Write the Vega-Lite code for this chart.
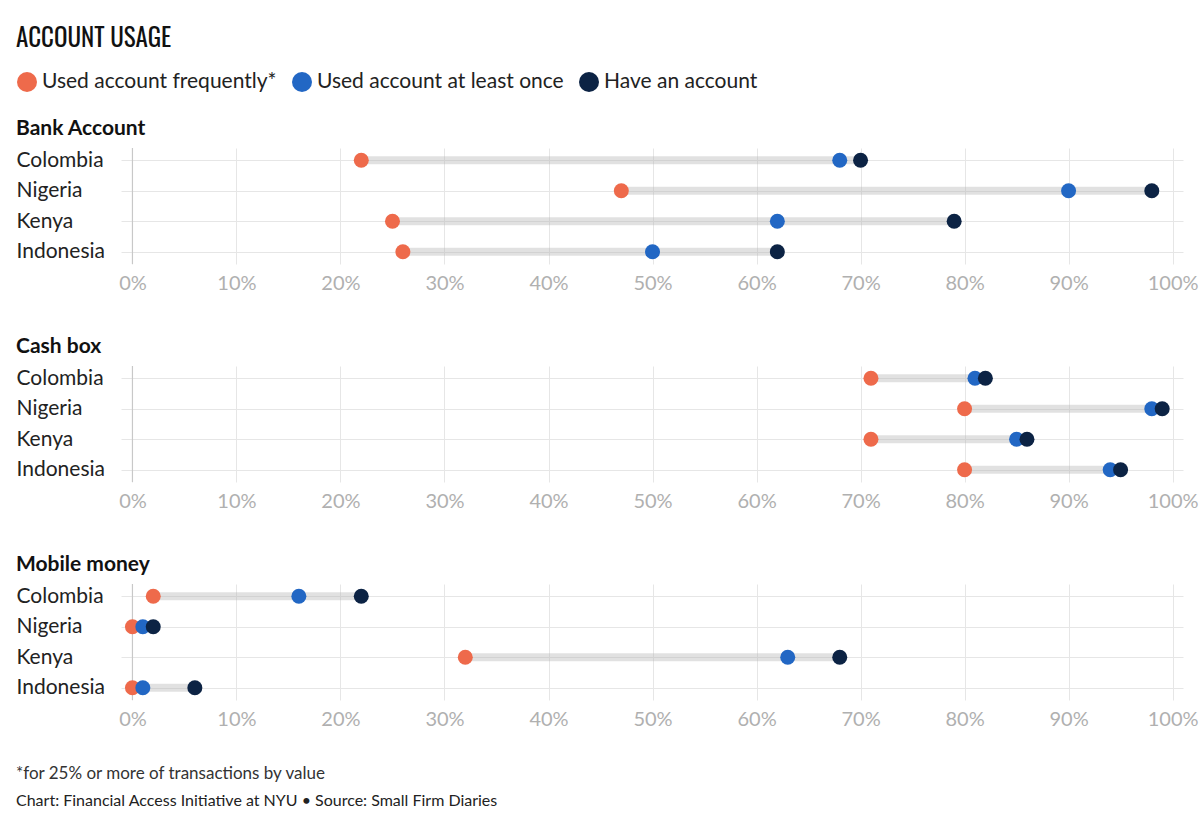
{
  "$schema": "https://vega.github.io/schema/vega-lite/v6.json",
  "padding": {"left": 16, "top": 27, "right": 4, "bottom": 6},
  "data": {"values": [
    {"type": "Bank Account", "country": "Colombia", "measure": "Used account frequently*", "value": 0.22},
    {"type": "Bank Account", "country": "Colombia", "measure": "Used account at least once", "value": 0.68},
    {"type": "Bank Account", "country": "Colombia", "measure": "Have an account", "value": 0.70},
    {"type": "Bank Account", "country": "Nigeria", "measure": "Used account frequently*", "value": 0.47},
    {"type": "Bank Account", "country": "Nigeria", "measure": "Used account at least once", "value": 0.90},
    {"type": "Bank Account", "country": "Nigeria", "measure": "Have an account", "value": 0.98},
    {"type": "Bank Account", "country": "Kenya", "measure": "Used account frequently*", "value": 0.25},
    {"type": "Bank Account", "country": "Kenya", "measure": "Used account at least once", "value": 0.62},
    {"type": "Bank Account", "country": "Kenya", "measure": "Have an account", "value": 0.79},
    {"type": "Bank Account", "country": "Indonesia", "measure": "Used account frequently*", "value": 0.26},
    {"type": "Bank Account", "country": "Indonesia", "measure": "Used account at least once", "value": 0.50},
    {"type": "Bank Account", "country": "Indonesia", "measure": "Have an account", "value": 0.62},
    {"type": "Cash box", "country": "Colombia", "measure": "Used account frequently*", "value": 0.71},
    {"type": "Cash box", "country": "Colombia", "measure": "Used account at least once", "value": 0.81},
    {"type": "Cash box", "country": "Colombia", "measure": "Have an account", "value": 0.82},
    {"type": "Cash box", "country": "Nigeria", "measure": "Used account frequently*", "value": 0.80},
    {"type": "Cash box", "country": "Nigeria", "measure": "Used account at least once", "value": 0.98},
    {"type": "Cash box", "country": "Nigeria", "measure": "Have an account", "value": 0.99},
    {"type": "Cash box", "country": "Kenya", "measure": "Used account frequently*", "value": 0.71},
    {"type": "Cash box", "country": "Kenya", "measure": "Used account at least once", "value": 0.85},
    {"type": "Cash box", "country": "Kenya", "measure": "Have an account", "value": 0.86},
    {"type": "Cash box", "country": "Indonesia", "measure": "Used account frequently*", "value": 0.80},
    {"type": "Cash box", "country": "Indonesia", "measure": "Used account at least once", "value": 0.94},
    {"type": "Cash box", "country": "Indonesia", "measure": "Have an account", "value": 0.95},
    {"type": "Mobile money", "country": "Colombia", "measure": "Used account frequently*", "value": 0.02},
    {"type": "Mobile money", "country": "Colombia", "measure": "Used account at least once", "value": 0.16},
    {"type": "Mobile money", "country": "Colombia", "measure": "Have an account", "value": 0.22},
    {"type": "Mobile money", "country": "Nigeria", "measure": "Used account frequently*", "value": 0.0},
    {"type": "Mobile money", "country": "Nigeria", "measure": "Used account at least once", "value": 0.01},
    {"type": "Mobile money", "country": "Nigeria", "measure": "Have an account", "value": 0.02},
    {"type": "Mobile money", "country": "Kenya", "measure": "Used account frequently*", "value": 0.32},
    {"type": "Mobile money", "country": "Kenya", "measure": "Used account at least once", "value": 0.63},
    {"type": "Mobile money", "country": "Kenya", "measure": "Have an account", "value": 0.68},
    {"type": "Mobile money", "country": "Indonesia", "measure": "Used account frequently*", "value": 0.0},
    {"type": "Mobile money", "country": "Indonesia", "measure": "Used account at least once", "value": 0.01},
    {"type": "Mobile money", "country": "Indonesia", "measure": "Have an account", "value": 0.06}
  ]},
  "title": {"text": "ACCOUNT USAGE", "font": "Oswald, Roboto Condensed, Liberation Sans Narrow, Arial Narrow, DejaVu Sans Condensed, sans-serif", "fontSize": 25, "fontWeight": "normal", "color": "#111111", "anchor": "start", "offset": 19},
  "vconcat": [
    {
      "title": {"text": "*for 25% or more of transactions by value", "subtitle": "Chart: Financial Access Initiative at NYU • Source: Small Firm Diaries", "orient": "bottom", "anchor": "start", "font": "Lato", "fontSize": 17, "fontWeight": "normal", "color": "#333333", "subtitleFont": "Lato", "subtitleFontSize": 16, "subtitleColor": "#222222", "subtitlePadding": 10, "offset": 37},
      "spacing": 43,
      "vconcat": [
        {
          "title": {"text": "Bank Account"},
          "width": 1062, "height": 116,
          "transform": [{"filter": "datum.type === 'Bank Account'"}],
          "layer": [
            {"data": {"values": [{"v": 0}]}, "mark": {"type": "rule", "color": "#c8c8c8", "strokeWidth": 1.2}, "encoding": {"x": {"field": "v", "type": "quantitative", "title": null}}},
            {"mark": {"type": "rule", "strokeWidth": 8, "color": "#b5b5b5", "opacity": 0.4}, "encoding": {"y": {"field": "country", "type": "nominal", "sort": ["Colombia", "Nigeria", "Kenya", "Indonesia"], "scale": {"type": "point", "padding": 0.4}}, "x": {"aggregate": "min", "field": "value", "type": "quantitative", "title": null}, "x2": {"aggregate": "max", "field": "value"}}},
            {"mark": {"type": "circle", "size": 225, "opacity": 1}, "encoding": {"y": {"field": "country", "type": "nominal", "sort": ["Colombia", "Nigeria", "Kenya", "Indonesia"], "scale": {"type": "point", "padding": 0.4}}, "x": {"field": "value", "type": "quantitative", "title": null, "scale": {"domain": [-0.011, 1.01], "nice": false, "zero": false}, "axis": {"values": [0, 0.1, 0.2, 0.3, 0.4, 0.5, 0.6, 0.7, 0.8, 0.9, 1], "format": ".0%"}}, "color": {"field": "measure", "type": "nominal", "title": null, "scale": {"domain": ["Used account frequently*", "Used account at least once", "Have an account"], "range": ["#EE6A4B", "#2267C4", "#0C2344"]}}}}
          ]
        },
        {
          "title": {"text": "Cash box"},
          "width": 1062, "height": 116,
          "transform": [{"filter": "datum.type === 'Cash box'"}],
          "layer": [
            {"data": {"values": [{"v": 0}]}, "mark": {"type": "rule", "color": "#c8c8c8", "strokeWidth": 1.2}, "encoding": {"x": {"field": "v", "type": "quantitative", "title": null}}},
            {"mark": {"type": "rule", "strokeWidth": 8, "color": "#b5b5b5", "opacity": 0.4}, "encoding": {"y": {"field": "country", "type": "nominal", "sort": ["Colombia", "Nigeria", "Kenya", "Indonesia"], "scale": {"type": "point", "padding": 0.4}}, "x": {"aggregate": "min", "field": "value", "type": "quantitative", "title": null}, "x2": {"aggregate": "max", "field": "value"}}},
            {"mark": {"type": "circle", "size": 225, "opacity": 1}, "encoding": {"y": {"field": "country", "type": "nominal", "sort": ["Colombia", "Nigeria", "Kenya", "Indonesia"], "scale": {"type": "point", "padding": 0.4}}, "x": {"field": "value", "type": "quantitative", "title": null, "scale": {"domain": [-0.011, 1.01], "nice": false, "zero": false}, "axis": {"values": [0, 0.1, 0.2, 0.3, 0.4, 0.5, 0.6, 0.7, 0.8, 0.9, 1], "format": ".0%"}}, "color": {"field": "measure", "type": "nominal", "title": null, "scale": {"domain": ["Used account frequently*", "Used account at least once", "Have an account"], "range": ["#EE6A4B", "#2267C4", "#0C2344"]}}}}
          ]
        },
        {
          "title": {"text": "Mobile money"},
          "width": 1062, "height": 116,
          "transform": [{"filter": "datum.type === 'Mobile money'"}],
          "layer": [
            {"data": {"values": [{"v": 0}]}, "mark": {"type": "rule", "color": "#c8c8c8", "strokeWidth": 1.2}, "encoding": {"x": {"field": "v", "type": "quantitative", "title": null}}},
            {"mark": {"type": "rule", "strokeWidth": 8, "color": "#b5b5b5", "opacity": 0.4}, "encoding": {"y": {"field": "country", "type": "nominal", "sort": ["Colombia", "Nigeria", "Kenya", "Indonesia"], "scale": {"type": "point", "padding": 0.4}}, "x": {"aggregate": "min", "field": "value", "type": "quantitative", "title": null}, "x2": {"aggregate": "max", "field": "value"}}},
            {"mark": {"type": "circle", "size": 225, "opacity": 1}, "encoding": {"y": {"field": "country", "type": "nominal", "sort": ["Colombia", "Nigeria", "Kenya", "Indonesia"], "scale": {"type": "point", "padding": 0.4}}, "x": {"field": "value", "type": "quantitative", "title": null, "scale": {"domain": [-0.011, 1.01], "nice": false, "zero": false}, "axis": {"values": [0, 0.1, 0.2, 0.3, 0.4, 0.5, 0.6, 0.7, 0.8, 0.9, 1], "format": ".0%"}}, "color": {"field": "measure", "type": "nominal", "title": null, "scale": {"domain": ["Used account frequently*", "Used account at least once", "Have an account"], "range": ["#EE6A4B", "#2267C4", "#0C2344"]}}}}
          ]
        }
      ]
    }
  ],
  "config": {
    "font": "Lato",
    "view": {"stroke": null},
    "title": {"anchor": "start", "font": "Lato", "fontSize": 21, "fontWeight": "bold", "color": "#111111", "offset": 8},
    "axisX": {"grid": true, "gridColor": "#e6e6e6", "domain": false, "ticks": false, "tickSize": 0, "labelFontSize": 20, "labelColor": "#b0b0b0", "labelPadding": 9, "labelFlush": false, "title": null},
    "axisY": {"grid": true, "gridColor": "#e6e6e6", "domain": false, "ticks": false, "tickSize": 0, "labelAlign": "left", "labelPadding": 105, "labelFontSize": 21, "labelColor": "#222222", "title": null},
    "legend": {"orient": "none", "legendX": -105, "legendY": -77, "direction": "horizontal", "symbolType": "circle", "symbolSize": 400, "symbolOpacity": 1, "labelFontSize": 21, "labelColor": "#222222", "labelFont": "Lato", "labelLimit": 0, "columnPadding": 14, "labelOffset": 4, "padding": 0}
  },
  "resolve": {"scale": {"color": "shared"}},
  "encoding": {}
}
